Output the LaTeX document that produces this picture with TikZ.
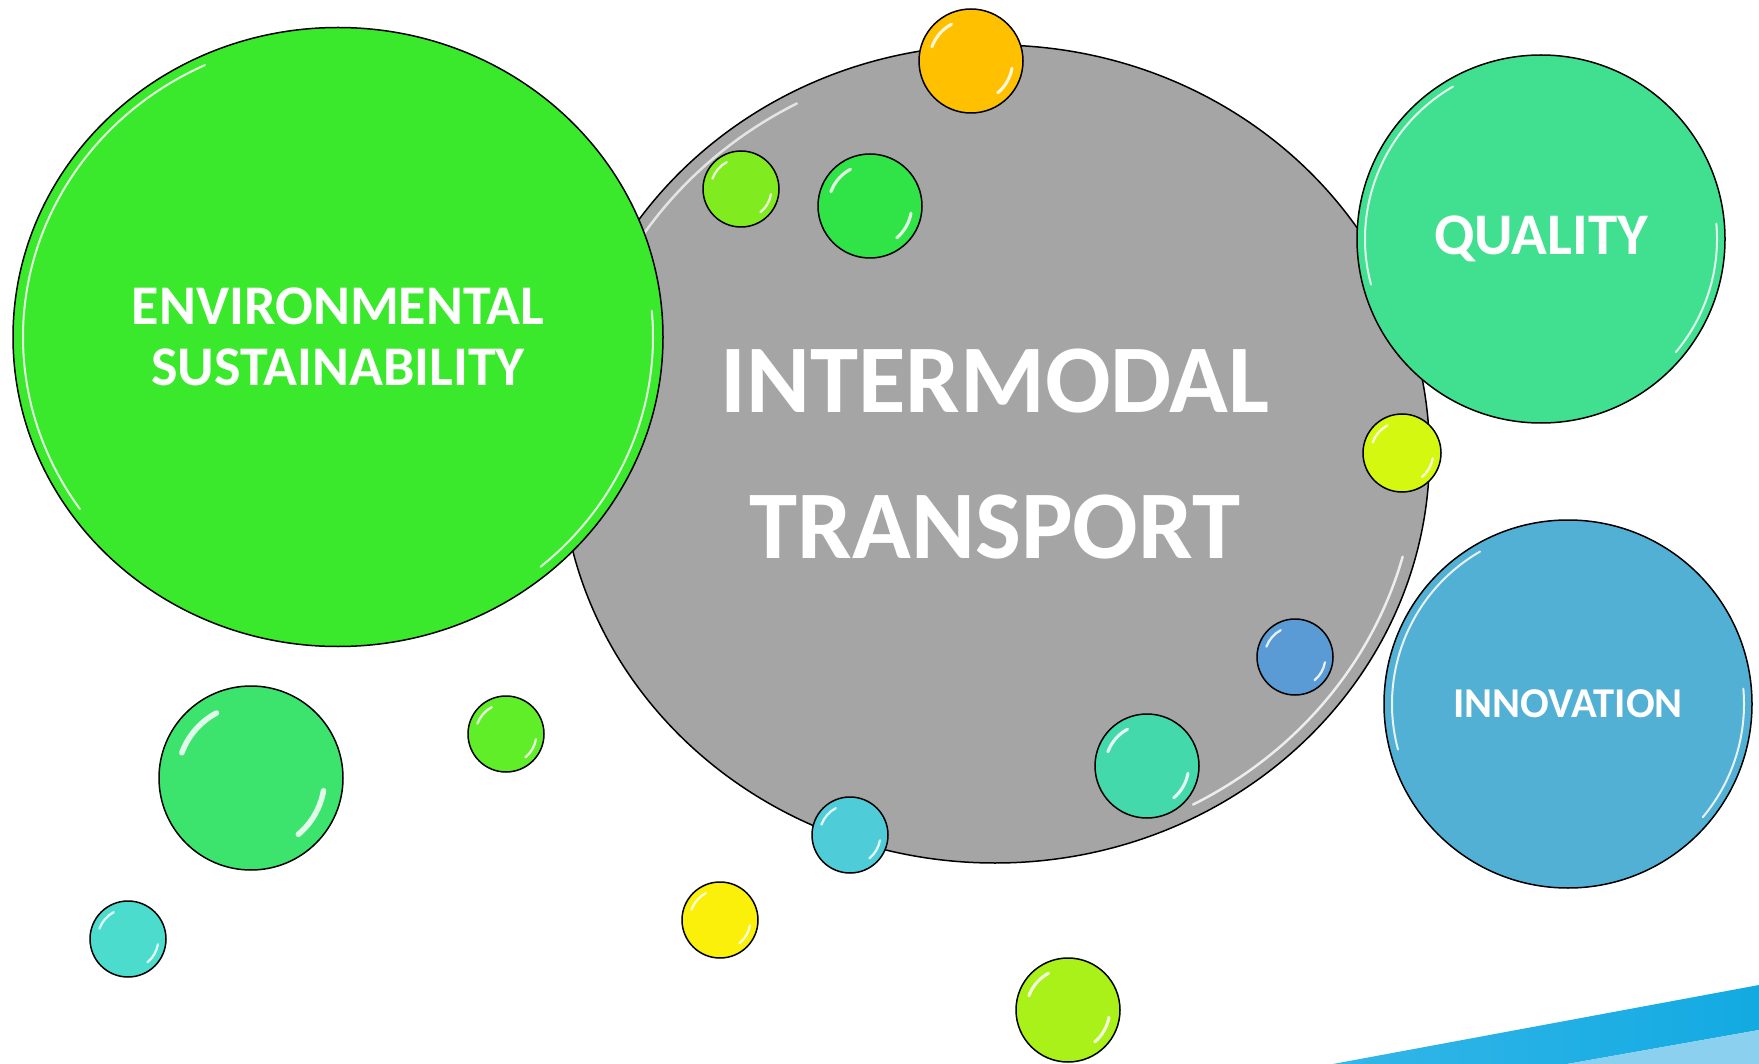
\documentclass[tikz,border=0pt]{standalone}
\usepackage{fontspec}
\setmainfont{Carlito}
\usetikzlibrary{shapes.geometric}
\usepackage{xcolor}
\definecolor{envgreen}{RGB}{58,233,43}
\definecolor{hubgray}{RGB}{165,165,165}
\definecolor{qualgreen}{RGB}{64,224,144}
\definecolor{innoblue}{RGB}{83,176,213}
\definecolor{dotorange}{RGB}{255,192,0}
\definecolor{dotlime}{RGB}{128,236,32}
\definecolor{dotgreen}{RGB}{48,228,72}
\definecolor{dotchart}{RGB}{213,248,16}
\definecolor{dotblue}{RGB}{91,155,213}
\definecolor{dotteal}{RGB}{67,217,171}
\definecolor{dotcyan}{RGB}{78,205,216}
\definecolor{dotyellow}{RGB}{250,240,10}
\definecolor{dotyellowgreen}{RGB}{170,240,25}
\definecolor{dotmint}{RGB}{60,228,110}
\definecolor{dotgrass}{RGB}{96,238,40}
\definecolor{dotaqua}{RGB}{75,220,205}
\definecolor{stripedark}{RGB}{18,170,226}
\definecolor{stripemid}{RGB}{52,182,232}
\definecolor{stripelight}{RGB}{140,208,240}
\tikzset{bubble/.style={shape=ellipse, draw=black, line width=1.5pt, inner sep=0pt, text=white, font=\bfseries, align=center},gloss/.style={white, line width=2.5pt, opacity=0.85, line cap=round}}

\begin{document}
\begin{tikzpicture}[x=1pt, y=-1pt]
        \useasboundingbox (0,0) rectangle (1759,1064);
        % Stripe
        \shade[left color=stripemid, right color=stripedark] (1333,1064) -- (1759,985) -- (1759,1030) -- (1567,1064) -- cycle;
        \fill[stripelight] (1567,1064) -- (1759,1030) -- (1759,1064) -- cycle;
        % Big bubbles
        \node[bubble, fill=hubgray, minimum width=869pt, minimum height=818pt, font=\bfseries\fontsize{97}{146}\selectfont] (transport) at (995,454) {INTERMODAL\\TRANSPORT};
        \draw[gloss, opacity=0.7] (transport.center) ++({cos(150)*422pt},{sin(150)*397pt}) arc[start angle=150, end angle=118, x radius=422pt, y radius=397pt];
        \draw[gloss, opacity=0.8] (transport.center) ++({cos(-15)*422pt},{sin(-15)*397pt}) arc[start angle=-15, end angle=-62, x radius=422pt, y radius=397pt];
        \node[bubble, fill=envgreen, minimum width=650pt, minimum height=619pt, font=\bfseries\fontsize{56}{61}\selectfont] (environment) at (338,337) {ENVIRONMENTAL\\SUSTAINABILITY};
        \draw[gloss, line width=2pt] (environment.center) ++({cos(115)*315pt},{sin(115)*300pt}) arc[start angle=115, end angle=215, x radius=315pt, y radius=300pt];
        \draw[gloss, line width=2pt] (environment.center) ++({cos(5)*315pt},{sin(5)*300pt}) arc[start angle=5, end angle=-50, x radius=315pt, y radius=300pt];
        \node[bubble, fill=qualgreen, minimum size=368pt, font=\bfseries\fontsize{59}{62}\selectfont] (quality) at (1541,239) {QUALITY};
        \draw[gloss, line width=2pt] (quality.center) ++(120:176pt) arc[start angle=120, end angle=195, radius=176pt];
        \draw[gloss, line width=2pt] (quality.center) ++(5:176pt) arc[start angle=5, end angle=-40, radius=176pt];
        \node[bubble, fill=innoblue, minimum size=368pt, font=\bfseries\fontsize{42.5}{46}\selectfont] (innovation) at (1568,704) {INNOVATION};
        \draw[gloss, line width=2pt] (innovation.center) ++(120:176pt) arc[start angle=120, end angle=195, radius=176pt];
        \draw[gloss, line width=2pt] (innovation.center) ++(5:176pt) arc[start angle=5, end angle=-40, radius=176pt];
        % Small bubbles
        \foreach \name/\x/\y/\r/\col in {
            orange/971/61/52/dotorange,
            lime/741/189/38/dotlime,
            green/870/206/52/dotgreen,
            chart/1402/453/39/dotchart,
            blue/1295/657/38/dotblue,
            teal/1147/766/52/dotteal,
            cyan/850/835/38/dotcyan,
            yellow/720/920/38/dotyellow,
            yellowgreen/1068/1010/52/dotyellowgreen,
            mint/251/778/92/dotmint,
            grass/506/734/38/dotgrass,
            aqua/128/939/38/dotaqua} {
            \node[bubble, fill=\col, minimum size={2*\r*1pt}] (\name) at (\x,\y) {};
            \draw[gloss, line width={0.06*\r*1pt}] (\name.center) ++(160:{0.8*\r*1pt}) arc[start angle=160, end angle=118, radius={0.8*\r*1pt}];
            \draw[gloss, line width={0.06*\r*1pt}] (\name.center) ++(-10:{0.8*\r*1pt}) arc[start angle=-10, end angle=-50, radius={0.8*\r*1pt}];
        }
    \end{tikzpicture}
\end{document}
